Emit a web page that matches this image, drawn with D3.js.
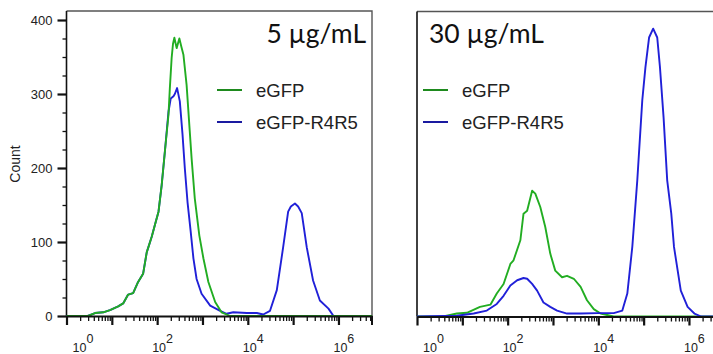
<!DOCTYPE html>
<html>
<head>
<meta charset="utf-8">
<script src="https://cdn.jsdelivr.net/npm/d3@7"></script>
<style>
  html, body { margin: 0; padding: 0; background: #fff; }
  svg { display: block; }
</style>
</head>
<body>
<svg id="chart" width="713" height="354"></svg>
<script>
// ---------------- data ----------------
const panelTitles = ["5 µg/mL", "30 µg/mL"];
const seriesNames = ["eGFP", "eGFP-R4R5"];
const countTicks = [0, 100, 200, 300, 400];
const decadeLabels = [0, 2, 4, 6];
const yAxisTitle = "Count";

// left panel (5 µg/mL) — x as log10(fluorescence), y as count
const left_eGFP_log = [0, 0.47, 0.63, 0.81, 0.96, 1.14, 1.25, 1.36, 1.47, 1.58, 1.69, 1.77, 1.88, 1.95, 2.03, 2.10, 2.17, 2.25, 2.28, 2.32, 2.35, 2.38, 2.43, 2.49, 2.53, 2.58, 2.65, 2.71, 2.76, 2.83, 2.93, 3.02, 3.13, 3.28, 3.42, 3.61, 6.74];
const left_eGFP_count = [0, 0, 4, 5, 8, 13, 17, 29, 31, 46, 57, 86, 107, 123, 141, 177, 222, 272, 308, 349, 368, 376, 362, 375, 365, 353, 312, 258, 213, 159, 109, 78, 46, 19, 5, 0, 0];

const left_R4R5_log = [0, 0.47, 0.63, 0.81, 0.96, 1.14, 1.25, 1.36, 1.47, 1.58, 1.69, 1.77, 1.88, 1.95, 2.03, 2.10, 2.17, 2.25, 2.30, 2.36, 2.39, 2.44, 2.50, 2.56, 2.61, 2.67, 2.74, 2.80, 2.87, 2.98, 3.17, 3.39, 3.53, 3.68, 3.98, 4.20, 4.34, 4.49, 4.64, 4.78, 4.89, 4.95, 5.04, 5.11, 5.19, 5.30, 5.44, 5.59, 5.78, 5.89, 6.74];
const left_R4R5_count = [0, 0, 4, 5, 8, 13, 17, 29, 31, 46, 57, 86, 107, 123, 141, 177, 222, 276, 294, 297, 300, 308, 290, 245, 200, 154, 114, 78, 50, 30, 14, 7, 3, 5, 4, 4, 2, 7, 35, 93, 141, 148, 152, 148, 139, 93, 48, 21, 10, 0, 0];

// right panel (30 µg/mL)
const right_eGFP_log = [0, 0.58, 0.88, 1.10, 1.39, 1.62, 1.76, 1.91, 2.06, 2.13, 2.28, 2.35, 2.43, 2.54, 2.61, 2.72, 2.83, 2.94, 3.05, 3.20, 3.31, 3.46, 3.61, 3.75, 3.90, 4.05, 4.34, 6.74];
const right_eGFP_count = [0, 0, 4, 5, 13, 16, 31, 44, 71, 76, 103, 139, 143, 170, 166, 148, 121, 85, 62, 53, 55, 51, 40, 22, 10, 4, 0, 0];

const right_R4R5_log = [0, 0.88, 1.25, 1.54, 1.76, 1.91, 2.06, 2.21, 2.35, 2.43, 2.54, 2.65, 2.79, 2.94, 3.09, 3.31, 3.61, 3.98, 4.34, 4.53, 4.64, 4.75, 4.86, 4.97, 5.04, 5.12, 5.21, 5.30, 5.36, 5.44, 5.52, 5.61, 5.67, 5.82, 5.97, 6.12, 6.27, 6.74];
const right_R4R5_count = [0, 1, 4, 8, 17, 28, 42, 49, 52, 51, 44, 35, 19, 13, 8, 4, 4, 4.5, 4.5, 8, 31, 94, 184, 292, 337, 377, 389, 377, 337, 269, 184, 139, 94, 35, 13, 4, 0, 0];

const seriesColors = ["#22ad22", "#2020d8"];

// ---------------- layout ----------------
const svg = d3.select("#chart");
svg.append("rect").attr("width", 713).attr("height", 354).attr("fill", "#fff");

const maxExp = 6.74;
const panels = [
  { x0: 66.5, x1: 372, top: 11, bottom: 316, title: panelTitles[0], titleAnchor: "end", titleX: 366,
    legendX: 217, showY: true,
    order: [1, 0],
    series: [[left_eGFP_log, left_eGFP_count], [left_R4R5_log, left_R4R5_count]] },
  { x0: 417, x1: 722.5, top: 11.5, bottom: 316.5, title: panelTitles[1], titleAnchor: "start", titleX: 429,
    legendX: 423, showY: false,
    order: [0, 1],
    series: [[right_eGFP_log, right_eGFP_count], [right_R4R5_log, right_R4R5_count]] }
];

const fontSans = "'Liberation Sans', Arial, sans-serif";

panels.forEach(p => {
  const x = d3.scaleLog().domain([1, Math.pow(10, maxExp)]).range([p.x0, p.x1]);
  const y = d3.scaleLinear().domain([0, 400]).range([p.bottom, 20 + (p.bottom - 316)]);
  const g = svg.append("g");

  // frame (top and right)
  g.append("path")
    .attr("d", `M${p.x0},${p.top}H${p.x1}V${p.bottom}`)
    .attr("fill", "none").attr("stroke", "#555").attr("stroke-width", 1.4);
  // left border
  g.append("line").attr("x1", p.x0).attr("x2", p.x0).attr("y1", p.top).attr("y2", p.bottom)
    .attr("stroke", "#111").attr("stroke-width", 1.6);

  // curves
  const line = d3.line().x(d => x(Math.pow(10, d[0]))).y(d => y(d[1]));
  p.order.forEach(i => {
    const [lx, ly] = p.series[i];
    const pts = lx.map((v, k) => [v, ly[k]]);
    g.append("path").datum(pts).attr("d", line)
      .attr("fill", "none").attr("stroke", seriesColors[i])
      .attr("stroke-width", 1.9).attr("stroke-linejoin", "round");
  });

  // x axis minor/major ticks
  const allTicks = [];
  for (let e = 0; e <= 6; e++) {
    for (let m = 1; m <= 9; m++) {
      const v = m * Math.pow(10, e);
      if (v <= Math.pow(10, maxExp)) allTicks.push(v);
    }
  }
  const isDecade = v => Math.abs(Math.log10(v) - Math.round(Math.log10(v))) < 1e-9;
  const minorX = allTicks.filter(v => !isDecade(v));
  const majorX = allTicks.filter(isDecade);
  const xg = g.append("g").attr("transform", `translate(0,${p.bottom})`);
  xg.call(d3.axisBottom(x).tickValues(minorX).tickSize(5).tickFormat(""))
    .call(a => a.select(".domain").remove())
    .selectAll("line").attr("stroke", "#111").attr("stroke-width", 1.3);
  const xg2 = g.append("g").attr("transform", `translate(0,${p.bottom})`);
  xg2.call(d3.axisBottom(x).tickValues(majorX).tickSize(9).tickSizeOuter(0).tickFormat(""))
    .call(a => a.select(".domain").attr("stroke", "#111").attr("stroke-width", 2.2))
    .selectAll("line").attr("stroke", "#111").attr("stroke-width", 2.2);
  // right-end tick
  xg2.append("line").attr("x1", p.x1).attr("x2", p.x1).attr("y1", 0).attr("y2", 9)
    .attr("stroke", "#111").attr("stroke-width", 2);

  // x labels 10^n
  decadeLabels.forEach(e => {
    const tx = Math.max(x(Math.pow(10, e)) - 5, p.x0 + 6);
    const t = g.append("text").attr("x", tx).attr("y", 351.5)
      .attr("font-family", fontSans).attr("font-size", 12.5).attr("fill", "#222");
    t.append("tspan").text("10");
    t.append("tspan").attr("dy", -8.5).attr("font-size", 12.5).text(String(e));
  });

  // y axis
  if (p.showY) {
    const minorY = d3.range(0, 401, 25).filter(v => v % 100 !== 0);
    g.append("g").attr("transform", `translate(${p.x0},0)`)
      .call(d3.axisLeft(y).tickValues(minorY).tickSize(4).tickFormat(""))
      .call(a => a.select(".domain").remove())
      .selectAll("line").attr("stroke", "#111").attr("stroke-width", 1.3);
    const yg = g.append("g").attr("transform", `translate(${p.x0},0)`)
      .call(d3.axisLeft(y).tickValues(countTicks).tickSize(9).tickPadding(5))
      .call(a => a.select(".domain").remove());
    yg.selectAll("line").attr("stroke", "#111").attr("stroke-width", 2.2);
    yg.selectAll("text").attr("font-family", fontSans).attr("font-size", 13).attr("fill", "#222");

    svg.append("text")
      .attr("transform", "translate(20,164) rotate(-90)")
      .attr("text-anchor", "middle")
      .attr("font-family", fontSans).attr("font-size", 14).attr("fill", "#222")
      .text(yAxisTitle);
  }

  // title
  g.append("text").attr("x", p.titleX).attr("y", 43)
    .attr("text-anchor", p.titleAnchor)
    .attr("font-family", "Lato, 'Open Sans', sans-serif").attr("font-size", 26.5).attr("fill", "#111")
    .text(p.title);

  // legend
  [0, 1].forEach(i => {
    const ly = 90 + i * 32;
    g.append("line").attr("x1", p.legendX).attr("x2", p.legendX + 25)
      .attr("y1", ly).attr("y2", ly)
      .attr("stroke", i === 0 ? "#1e8a1e" : "#1a1aa0").attr("stroke-width", 2);
    g.append("text").attr("x", p.legendX + 39).attr("y", ly + 7)
      .attr("font-family", fontSans).attr("font-size", 18.5).attr("fill", "#222")
      .text(seriesNames[i]);
  });
});
</script>
</body>
</html>
